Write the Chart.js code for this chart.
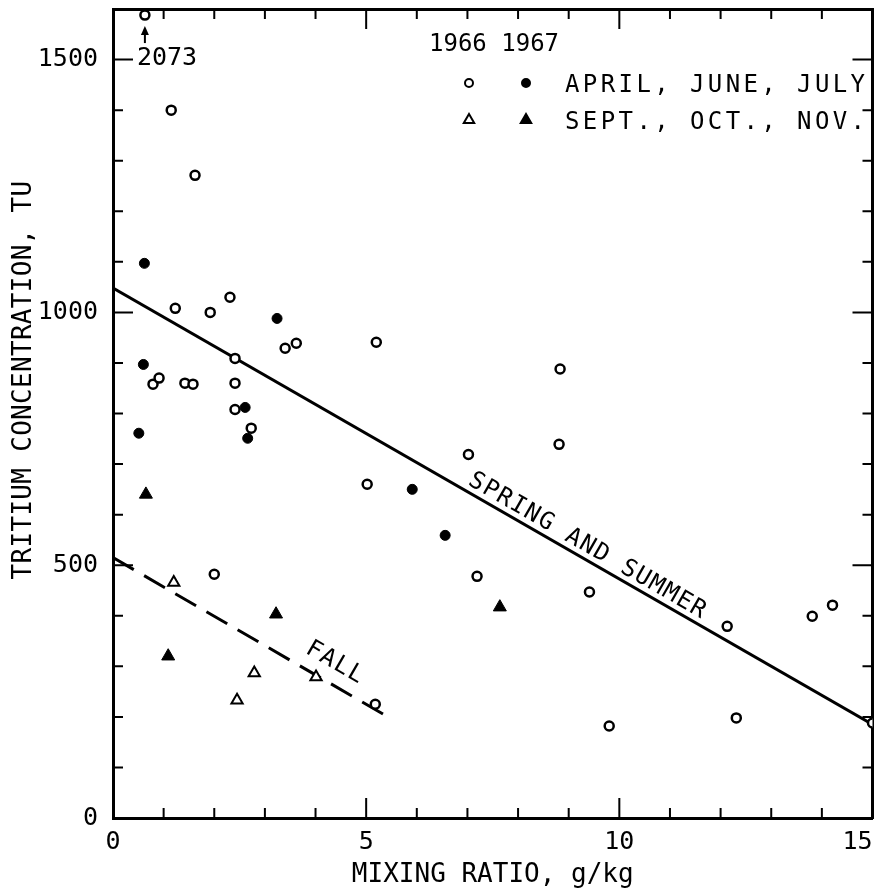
<!DOCTYPE html>
<html>
<head>
<meta charset="utf-8">
<script src="https://cdn.jsdelivr.net/npm/chart.js@4/dist/chart.umd.min.js"></script>
<style>
  html, body { margin: 0; padding: 0; background: #fff; }
  #wrap { width: 881px; height: 896px; }
</style>
</head>
<body>
<div id="wrap"><canvas id="tritiumChart" width="881" height="896"></canvas></div>
<script>
// Axis ranges and tick labels
const X_MIN = 0, X_MAX = 15;
const Y_MIN = 0, Y_MAX = 1600;
const xTickLabels = [0, 5, 10, 15];
const yTickLabels = [0, 500, 1000, 1500];
// off-scale values are plotted just under the top of the frame
const Y_PLOT_CAP = 1588;

// 1966, April / June / July (open circles)
const open66X = [0.63, 1.15, 1.62, 1.23, 1.92, 2.31, 2.41, 0.79, 0.91, 1.42, 1.58, 2.41, 2.41, 2.73, 3.40, 3.62,
                 5.20, 5.02, 8.83, 8.81, 7.02, 7.19, 9.41, 9.80, 12.13, 12.31, 13.81, 14.21, 15.00, 2.00, 5.18];
const open66Y = [2073, 1400, 1271, 1008, 1000, 1030, 909, 858, 870, 860, 858, 860, 808, 771, 929, 939,
                 941, 660, 888, 739, 719, 478, 447, 182, 379, 198, 399, 421, 188, 482, 225];

// 1967, April / June / July (filled circles)
const filled67X = [0.62, 0.60, 0.51, 3.24, 2.61, 2.66, 5.91, 6.56];
const filled67Y = [1097, 897, 761, 988, 812, 751, 650, 559];

// 1966, Sept. / Oct. / Nov. (open triangles)
const fallOpen66X = [1.20, 2.79, 2.45, 4.01];
const fallOpen66Y = [466, 287, 233, 279];

// 1967, Sept. / Oct. / Nov. (filled triangles)
const fallFilled67X = [0.65, 1.09, 3.22, 7.64];
const fallFilled67Y = [640, 320, 403, 417];

// fitted lines
const springLineX = [0, 15];
const springLineY = [1048, 185];
const fallLineX = [0, 5.5];
const fallLineY = [515, 196];

const MONO = "'DejaVu Sans Mono', 'Liberation Mono', monospace";
Chart.defaults.font.family = MONO;
Chart.defaults.color = '#000';

function pts(xs, ys) {
    return xs.map((x, i) => ({ x: x, y: Math.min(ys[i], Y_PLOT_CAP) }));
}

// fixed box sizes so the frame sits where it does in the figure
function fixBox(size) {
    return s => {
        if (s.isHorizontal()) s.height = size; else s.width = size;
        s.paddingLeft = s.paddingRight = s.paddingTop = s.paddingBottom = 0;
    };
}

// small helper for the legend symbols
function symbol(ctx, style, filled, r, x, y) {
    ctx.save();
    ctx.fillStyle = filled ? '#000' : '#fff';
    ctx.strokeStyle = '#000';
    ctx.lineWidth = 2;
    ctx.beginPath();
    if (style === 'circle') {
        ctx.arc(x, y, r, 0, Math.PI * 2);
    } else {
        ctx.moveTo(x, y - r);
        ctx.lineTo(x + r * 0.87, y + r * 0.5);
        ctx.lineTo(x - r * 0.87, y + r * 0.5);
        ctx.closePath();
    }
    ctx.fill();
    ctx.stroke();
    ctx.restore();
}

function text(ctx, str, x, y, opts) {
    ctx.save();
    ctx.font = opts.font;
    ctx.letterSpacing = (opts.spacing || 0) + 'px';
    ctx.fillStyle = '#000';
    ctx.textAlign = opts.align || 'left';
    ctx.textBaseline = opts.baseline || 'middle';
    ctx.translate(x, y);
    if (opts.rotate) ctx.rotate(opts.rotate);
    ctx.fillText(str, 0, 0);
    ctx.restore();
}

// label written along a fitted line, a bit above it
function lineLabel(ctx, xs, ys, sx, sy, atX, str, lift) {
    const x1 = sx.getPixelForValue(xs[0]), y1 = sy.getPixelForValue(ys[0]);
    const x2 = sx.getPixelForValue(xs[1]), y2 = sy.getPixelForValue(ys[1]);
    const ang = Math.atan2(y2 - y1, x2 - x1);
    const t = (atX - xs[0]) / (xs[1] - xs[0]);
    const px = x1 + (x2 - x1) * t, py = y1 + (y2 - y1) * t;
    const ox = px + Math.sin(ang) * lift, oy = py - Math.cos(ang) * lift;
    text(ctx, str, ox, oy, { font: '24px ' + MONO, spacing: 1.5, align: 'center', baseline: 'alphabetic', rotate: ang });
}

const frame = {
    id: 'frame',
    afterDatasetsDraw(chart) {
        const { ctx, chartArea: a, scales } = chart;
        const sx = scales.x, sy = scales.y;
        ctx.save();
        ctx.strokeStyle = '#000';
        ctx.lineWidth = 2;
        ctx.beginPath();
        // inward ticks on all four sides
        sx.ticks.forEach(t => {
            const px = sx.getPixelForValue(t.value);
            const len = t.value % 5 === 0 ? 20 : 10;
            ctx.moveTo(px, a.bottom); ctx.lineTo(px, a.bottom - len);
            ctx.moveTo(px, a.top); ctx.lineTo(px, a.top + len);
        });
        sy.ticks.forEach(t => {
            const py = sy.getPixelForValue(t.value);
            const len = t.value % 500 === 0 ? 20 : 10;
            ctx.moveTo(a.left, py); ctx.lineTo(a.left + len, py);
            ctx.moveTo(a.right, py); ctx.lineTo(a.right - len, py);
        });
        ctx.stroke();
        ctx.restore();

        // off-scale values: arrow + value under the point
        open66Y.forEach((v, i) => {
            if (v <= Y_MAX) return;
            const px = sx.getPixelForValue(open66X[i]);
            const py = sy.getPixelForValue(Y_PLOT_CAP);
            ctx.save();
            ctx.strokeStyle = '#000';
            ctx.fillStyle = '#000';
            ctx.lineWidth = 2;
            ctx.beginPath();
            ctx.moveTo(px, py + 14); ctx.lineTo(px, py + 28);
            ctx.stroke();
            ctx.beginPath();
            ctx.moveTo(px, py + 11); ctx.lineTo(px + 4, py + 20); ctx.lineTo(px - 4, py + 20);
            ctx.closePath();
            ctx.fill();
            ctx.restore();
            text(ctx, String(v), px - 8, py + 43, { font: '25px ' + MONO });
        });

        lineLabel(ctx, springLineX, springLineY, sx, sy, 9.25, 'SPRING AND SUMMER', 6.5);
        lineLabel(ctx, fallLineX, fallLineY, sx, sy, 4.19, 'FALL', 14);

        // legend
        text(ctx, '1966 1967', 429, 45, { font: '24px ' + MONO });
        symbol(ctx, 'circle', false, 4, 469, 83);
        symbol(ctx, 'circle', true, 4, 526, 83);
        text(ctx, 'APRIL, JUNE, JULY', 565, 86, { font: '24px ' + MONO, spacing: 3.4 });
        symbol(ctx, 'triangle', false, 6, 469, 120);
        symbol(ctx, 'triangle', true, 6, 526, 120);
        text(ctx, 'SEPT., OCT., NOV.', 565, 123, { font: '24px ' + MONO, spacing: 3.4 });

        // y axis title
        text(ctx, 'TRITIUM CONCENTRATION, TU', 24, 380, { font: '26px ' + MONO, spacing: 0.3, align: 'center', rotate: -Math.PI / 2 });
    }
};

const ctx = document.getElementById('tritiumChart').getContext('2d');
new Chart(ctx, {
    type: 'scatter',
    data: {
        datasets: [
            {
                label: '1966 April, June, July',
                data: pts(open66X, open66Y),
                pointStyle: 'circle',
                pointRadius: 4.5,
                pointBorderWidth: 2.5,
                pointBackgroundColor: '#fff',
                pointBorderColor: '#000'
            },
            {
                label: '1967 April, June, July',
                data: pts(filled67X, filled67Y),
                pointStyle: 'circle',
                pointRadius: 5,
                pointBorderWidth: 1,
                pointBackgroundColor: '#000',
                pointBorderColor: '#000'
            },
            {
                label: '1966 Sept., Oct., Nov.',
                data: pts(fallOpen66X, fallOpen66Y),
                pointStyle: 'triangle',
                pointRadius: 6.5,
                pointBorderWidth: 2,
                pointBackgroundColor: '#fff',
                pointBorderColor: '#000'
            },
            {
                label: '1967 Sept., Oct., Nov.',
                data: pts(fallFilled67X, fallFilled67Y),
                pointStyle: 'triangle',
                pointRadius: 7.5,
                pointBorderWidth: 1,
                pointBackgroundColor: '#000',
                pointBorderColor: '#000'
            },
            {
                label: 'Spring and summer',
                data: pts(springLineX, springLineY),
                showLine: true,
                borderColor: '#000',
                borderWidth: 3,
                pointRadius: 0
            },
            {
                label: 'Fall',
                data: pts(fallLineX, fallLineY),
                showLine: true,
                borderColor: '#000',
                borderWidth: 3,
                borderDash: [24, 12],
                pointRadius: 0
            }
        ]
    },
    options: {
        responsive: false,
        animation: false,
        layout: { padding: 0 },
        plugins: {
            legend: { display: false },
            tooltip: { enabled: false }
        },
        scales: {
            x: {
                type: 'linear',
                position: 'bottom',
                min: X_MIN, max: X_MAX,
                grid: { display: false },
                border: { display: true, color: '#000', width: 3 },
                ticks: {
                    stepSize: 1,
                    autoSkip: false,
                    maxRotation: 0,
                    padding: 1,
                    font: { size: 25 },
                    color: '#000',
                    // the last label is pulled inside the page, as in the figure
                    callback: v => xTickLabels.includes(v) ? (v === X_MAX ? v + '  ' : String(v)) : ''
                },
                title: {
                    display: true,
                    text: 'MIXING RATIO, g/kg',
                    font: { size: 26, lineHeight: 1.2 },
                    color: '#000',
                    padding: { top: 0, bottom: 5 }
                },
                afterFit: fixBox(78)
            },
            x2: {
                type: 'linear',
                position: 'top',
                min: X_MIN, max: X_MAX,
                grid: { display: false },
                border: { display: true, color: '#000', width: 3 },
                ticks: { display: false },
                afterFit: fixBox(9)
            },
            y: {
                type: 'linear',
                position: 'left',
                min: Y_MIN, max: Y_MAX,
                grid: { display: false },
                border: { display: true, color: '#000', width: 3 },
                ticks: {
                    stepSize: 100,
                    autoSkip: false,
                    padding: 7,
                    font: { size: 25 },
                    color: '#000',
                    callback: v => yTickLabels.includes(v) ? String(v) : ''
                },
                afterFit: fixBox(113)
            },
            y2: {
                type: 'linear',
                position: 'right',
                min: Y_MIN, max: Y_MAX,
                grid: { display: false },
                border: { display: true, color: '#000', width: 3 },
                ticks: { display: false },
                afterFit: fixBox(8)
            }
        }
    },
    plugins: [frame]
});
</script>
</body>
</html>
